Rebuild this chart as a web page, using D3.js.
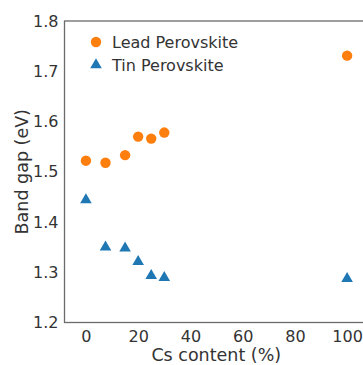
<!DOCTYPE html>
<html>
<head>
<meta charset="utf-8">
<script src="https://cdn.jsdelivr.net/npm/d3@7"></script>
<style>
  html, body { margin: 0; padding: 0; background: #fff; }
  svg { display: block; font-family: "DejaVu Sans", sans-serif; }
</style>
</head>
<body>
<script>
// Cs content (%) for each sample
var csContent = [0, 7.5, 15, 20, 25, 30, 100];
// band gaps (eV)
var leadGap = [1.522, 1.518, 1.533, 1.570, 1.566, 1.578, 1.731];
var tinGap = [1.446, 1.352, 1.350, 1.323, 1.295, 1.291, 1.289];

var xTicks = [0, 20, 40, 60, 80, 100];
var yTicks = [1.2, 1.3, 1.4, 1.5, 1.6, 1.7, 1.8];
var seriesNames = ["Lead Perovskite", "Tin Perovskite"];

function plot() {
  var width = 363, height = 365;
  var left = 64.5, top = 21, right = 368, bottom = 322.5;

  var svg = d3.select("body").append("svg")
      .attr("width", width)
      .attr("height", height);

  var x = d3.scaleLinear().domain([-8.2, 108]).range([left, right]);
  var y = d3.scaleLinear().domain([1.2, 1.8]).range([bottom, top]);

  // frame
  svg.append("rect")
      .attr("x", left)
      .attr("y", top)
      .attr("width", right - left)
      .attr("height", bottom - top)
      .attr("fill", "none")
      .attr("stroke", "#6a6a6a")
      .attr("stroke-width", 1.3);

  // axes, no tick marks
  var xAxis = svg.append("g")
      .attr("transform", "translate(0," + bottom + ")")
      .call(d3.axisBottom(x).tickValues(xTicks).tickSize(0).tickPadding(8).tickFormat(d3.format("d")));
  var yAxis = svg.append("g")
      .attr("transform", "translate(" + left + ",0)")
      .call(d3.axisLeft(y).tickValues(yTicks).tickSize(0).tickPadding(6).tickFormat(d3.format(".1f")));

  [xAxis, yAxis].forEach(function(a) {
    a.select(".domain").remove();
    a.selectAll("text")
        .attr("fill", "#333")
        .style("font-size", "16px")
        .style("font-family", "DejaVu Sans, sans-serif");
  });

  // axis titles
  svg.append("text")
      .attr("x", (left + right) / 2)
      .attr("y", 360.5)
      .attr("text-anchor", "middle")
      .attr("fill", "#333")
      .style("font-size", "17.5px")
      .text("Cs content (%)");

  svg.append("text")
      .attr("transform", "translate(28," + ((top + bottom) / 2) + ") rotate(-90)")
      .attr("text-anchor", "middle")
      .attr("fill", "#333")
      .style("font-size", "17.5px")
      .text("Band gap (eV)");

  var orange = "#ff7f0e", blue = "#1f77b4";
  var tri = d3.symbol().type(d3.symbolTriangle).size(58);

  svg.append("g").selectAll("circle")
      .data(csContent)
      .enter().append("circle")
      .attr("cx", function(d) { return x(d); })
      .attr("cy", function(d, i) { return y(leadGap[i]); })
      .attr("r", 5.2)
      .attr("fill", orange);

  svg.append("g").selectAll("path")
      .data(csContent)
      .enter().append("path")
      .attr("d", tri)
      .attr("transform", function(d, i) { return "translate(" + x(d) + "," + (y(tinGap[i]) + 1) + ")"; })
      .attr("fill", blue);

  // legend
  var legend = svg.append("g");
  legend.append("circle")
      .attr("cx", 96).attr("cy", 42).attr("r", 5.2)
      .attr("fill", orange);
  legend.append("path")
      .attr("d", tri)
      .attr("transform", "translate(96,65)")
      .attr("fill", blue);
  legend.selectAll("text")
      .data(seriesNames)
      .enter().append("text")
      .attr("x", 112)
      .attr("y", function(d, i) { return 42 + i * 23; })
      .attr("dy", "0.35em")
      .attr("fill", "#333")
      .style("font-size", "16px")
      .text(function(d) { return d; });
}

plot();
</script>
</body>
</html>
